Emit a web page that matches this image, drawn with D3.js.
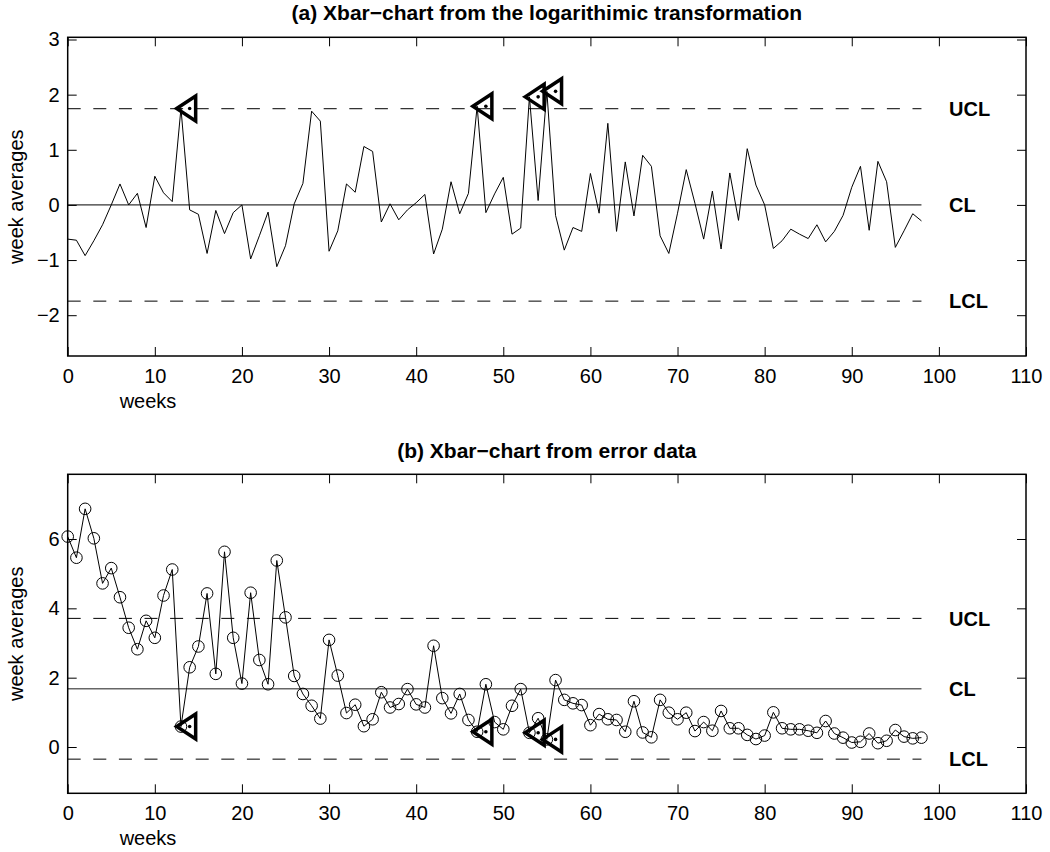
<html>
  <head>
    <script src="https://d3js.org/d3.v7.min.js"></script>
    <style>
      body { margin: 0; background: #fff; }
      text { font-family: Arial, "Liberation Sans", Helvetica, sans-serif; }
    </style>
  </head>

  <body>
    <svg id="svg1" width="1050" height="852"></svg>

    <script>
      // week averages after the log transformation (weeks 0..98)
      const logAverages = [
        -0.62, -0.64, -0.92, -0.65, -0.36, 0.0, 0.38, 0.0, 0.21, -0.41,
        0.52, 0.22, 0.06, 1.75, -0.09, -0.17, -0.88, -0.1, -0.52, -0.14,
        0.0, -0.98, -0.56, -0.13, -1.12, -0.74, 0.02, 0.39, 1.7, 1.52,
        -0.84, -0.47, 0.38, 0.23, 1.06, 0.97, -0.31, 0.02, -0.27, -0.09,
        0.04, 0.19, -0.89, -0.44, 0.42, -0.16, 0.21, 1.79, -0.14, 0.2,
        0.5, -0.53, -0.42, 1.96, 0.08, 2.06, -0.19, -0.82, -0.41, -0.48,
        0.57, -0.15, 1.48, -0.48, 0.78, -0.2, 0.9, 0.7, -0.56, -0.88,
        -0.15, 0.64, 0.03, -0.62, 0.25, -0.8, 0.58, -0.28, 1.02, 0.36,
        0.0, -0.79, -0.65, -0.44, -0.53, -0.61, -0.36, -0.67, -0.48, -0.19,
        0.32, 0.7, -0.46, 0.79, 0.42, -0.77, -0.47, -0.16, -0.29
      ];

      // week averages of the raw error data (weeks 0..98)
      const errAverages = [
        6.07, 5.46, 6.87, 6.02, 4.72, 5.16, 4.32, 3.44, 2.82, 3.64,
        3.15, 4.37, 5.12, 0.59, 2.3, 2.9, 4.43, 2.11, 5.63, 3.15,
        1.83, 4.45, 2.51, 1.81, 5.38, 3.74, 2.05, 1.53, 1.19, 0.82,
        3.09, 2.06, 0.98, 1.22, 0.6, 0.8, 1.58, 1.14, 1.24, 1.67,
        1.23, 1.14, 2.92, 1.41, 0.97, 1.53, 0.78, 0.44, 1.81, 0.72,
        0.51, 1.19, 1.67, 0.41, 0.83, 0.22, 1.93, 1.36, 1.26, 1.21,
        0.63, 0.95, 0.8, 0.78, 0.44, 1.32, 0.42, 0.28, 1.36, 0.99,
        0.8, 0.99, 0.46, 0.72, 0.47, 1.04, 0.54, 0.54, 0.35, 0.23,
        0.33, 1.0, 0.54, 0.51, 0.51, 0.47, 0.41, 0.75, 0.39, 0.27,
        0.13, 0.15, 0.39, 0.11, 0.18, 0.49, 0.3, 0.25, 0.27
      ];

      // weeks flagged by the control rules
      const logFlagWeeks = [13, 47, 53, 55];
      const errFlagWeeks = [13, 47, 53, 55];

      const limitNames = ["UCL", "CL", "LCL"];
      const logLimits = [1.745, 0, -1.745];
      const errLimits = [3.71, 1.68, -0.35];

      const xTicks = [0, 10, 20, 30, 40, 50, 60, 70, 80, 90, 100, 110];
      const logYTicks = [-2, -1, 0, 1, 2, 3];
      const errYTicks = [0, 2, 4, 6];

      const svg = d3.select("svg#svg1");
      const fontSize = 20;

      function drawPanel(opts) {
        const x = d3.scaleLinear().domain([0, 110]).range([67.7, 1026]);
        const y = d3.scaleLinear().domain(opts.yDomain).range([opts.bottom, opts.top]);
        const g = svg.append("g");
        const lastWeek = opts.values.length - 1;

        // ticks on all four sides, pointing in
        const styleAxis = (a) => {
          a.select(".domain").remove();
          a.attr("font-family", null).attr("font-size", fontSize);
          a.selectAll("line").attr("stroke", "#000");
          a.selectAll("text").attr("fill", "#000");
        };
        g.append("g")
          .attr("transform", `translate(0,${opts.bottom})`)
          .call(d3.axisBottom(x).tickValues(xTicks).tickSize(-9).tickPadding(12.8))
          .call(styleAxis);
        g.append("g")
          .attr("transform", `translate(0,${opts.top})`)
          .call(d3.axisTop(x).tickValues(xTicks).tickSize(-9).tickFormat(""))
          .call(styleAxis);
        g.append("g")
          .attr("transform", `translate(${x(0)},0)`)
          .call(d3.axisLeft(y).tickValues(opts.yTicks).tickSize(-9).tickPadding(8)
            .tickFormat((d) => (d < 0 ? "\u2212" + Math.abs(d) : d)))
          .call(styleAxis);
        g.append("g")
          .attr("transform", `translate(${x(110)},0)`)
          .call(d3.axisRight(y).tickValues(opts.yTicks).tickSize(-9).tickFormat(""))
          .call(styleAxis);

        // control limits
        limitNames.forEach((name, i) => {
          g.append("line")
            .attr("x1", x(0))
            .attr("x2", x(lastWeek))
            .attr("y1", y(opts.limits[i]))
            .attr("y2", y(opts.limits[i]))
            .attr("stroke", name == "CL" ? opts.clColor : "#000")
            .attr("stroke-width", name == "CL" ? opts.clWidth : 1)
            .attr("stroke-dasharray", name == "CL" ? null : "13,12.6");
          g.append("text")
            .attr("x", 949)
            .attr("y", y(opts.limits[i]))
            .attr("dy", "0.36em")
            .attr("font-size", fontSize)
            .attr("font-weight", "bold")
            .text(name);
        });

        const lineGen = d3.line()
          .x((v, i) => x(i))
          .y((v) => y(v));

        g.append("path")
          .attr("fill", "none")
          .attr("stroke", "#000")
          .attr("stroke-width", 1)
          .attr("d", lineGen(opts.values));

        if (opts.circles) {
          g.selectAll("circle.pt")
            .data(opts.values)
            .join("circle")
            .attr("class", "pt")
            .attr("cx", (v, i) => x(i))
            .attr("cy", (v) => y(v))
            .attr("r", 5.8)
            .attr("fill", "none")
            .attr("stroke", "#000")
            .attr("stroke-width", 1);
        }

        // flagged points: left-pointing triangle with a dot, one week to the right
        const flags = g.selectAll("g.flag")
          .data(opts.flags)
          .join("g")
          .attr("class", "flag")
          .attr("transform", (w) => `translate(${x(w + 1)},${y(opts.values[w])})`);
        flags.append("path")
          .attr("d", "M-13,0L6,-12.5L6,12.5Z")
          .attr("fill", "none")
          .attr("stroke", "#000")
          .attr("stroke-width", 3.5);
        flags.append("circle")
          .attr("r", 1.8)
          .attr("fill", "#000");

        // frame
        g.append("rect")
          .attr("x", x(0))
          .attr("y", opts.top)
          .attr("width", x(110) - x(0))
          .attr("height", opts.bottom - opts.top)
          .attr("fill", "none")
          .attr("stroke", "#000")
          .attr("stroke-width", 1.5);

        g.append("text")
          .attr("x", (x(0) + x(110)) / 2)
          .attr("y", opts.titleY)
          .attr("text-anchor", "middle")
          .attr("font-size", 21)
          .attr("font-weight", "bold")
          .text(opts.title);

        g.append("text")
          .attr("x", 148)
          .attr("y", opts.bottom + 52)
          .attr("text-anchor", "middle")
          .attr("font-size", fontSize)
          .text("weeks");

        g.append("text")
          .attr("transform", `translate(23,${(opts.top + opts.bottom) / 2}) rotate(-90)`)
          .attr("text-anchor", "middle")
          .attr("font-size", fontSize)
          .text("week averages");
      }

      drawPanel({
        values: logAverages,
        flags: logFlagWeeks,
        limits: logLimits,
        yDomain: [-2.74, 3.04],
        yTicks: logYTicks,
        top: 37.3,
        bottom: 356,
        titleY: 20,
        title: "(a) Xbar\u2212chart from the logarithimic transformation",
        circles: false,
        clColor: "#000",
        clWidth: 1
      });

      drawPanel({
        values: errAverages,
        flags: errFlagWeeks,
        limits: errLimits,
        yDomain: [-1.335, 7.866],
        yTicks: errYTicks,
        top: 474.3,
        bottom: 793.3,
        titleY: 457.5,
        title: "(b) Xbar\u2212chart from error data",
        circles: true,
        clColor: "#666",
        clWidth: 1.3
      });
    </script>
  </body>
</html>
